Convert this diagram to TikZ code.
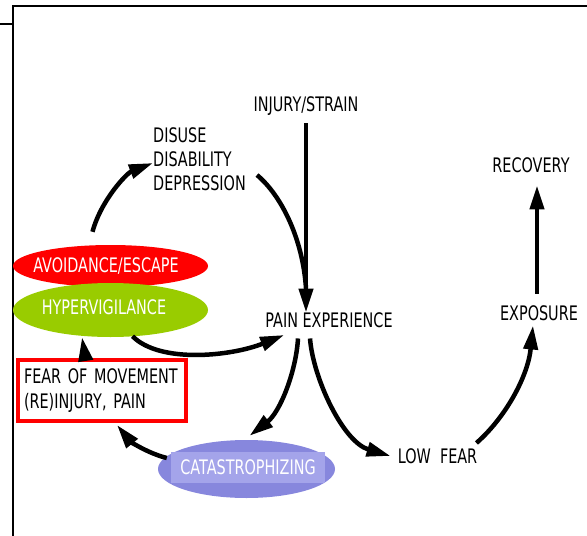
\documentclass[tikz,border=0pt]{standalone}
\usepackage{fontspec}
\setmainfont{DejaVu Sans}[FakeStretch=0.72]
\usetikzlibrary{arrows.meta,shapes.geometric,calc}
\definecolor{hypgreen}{HTML}{99CC00}
\definecolor{catblue}{HTML}{8787DD}
\definecolor{catlight}{HTML}{A4A4EA}
\begin{document}
\begin{tikzpicture}[x=1pt,y=-1pt,
  lbl/.style={font=\fontsize{20}{24}\selectfont, inner sep=0pt, text height=14.5pt, text depth=0pt},
  mlbl/.style={font=\fontsize{20}{24}\selectfont, inner sep=0pt, align=left},
  blob/.style={ellipse, inner sep=0pt},
  arr/.style={line width=4.5pt, -{Triangle[length=24pt,width=14pt]}},
  link/.style={line width=4.5pt},
  frame/.style={line width=2pt}]
\useasboundingbox (0,0) rectangle (587,536);
% frame
\draw[frame] (12,6) -- (587,6);
\draw[frame] (13,5) -- (13,536);
\draw[frame] (0,24) -- (13,24);
% nodes
\node[lbl] (inj) at (306,104) {INJURY/STRAIN};
\node[mlbl, anchor=north west] (dis) at (153,127) {DISUSE\\DISABILITY\\DEPRESSION};
\node[lbl] (rec) at (531,165) {RECOVERY};
\node[blob, fill=red, minimum width=195pt, minimum height=42pt] (avo) at (110.5,266) {};
\node[blob, fill=hypgreen, minimum width=195pt, minimum height=54pt] (hyp) at (110.5,310) {};
\node[lbl, text=white] (avot) at (106,265) {AVOIDANCE/ESCAPE};
\node[lbl, text=white] (hypt) at (104,307) {HYPERVIGILANCE};
\node[lbl] (pain) at (329,320) {PAIN EXPERIENCE};
\node[lbl] (exp) at (539,313) {EXPOSURE};
\node[draw=red, line width=4pt, minimum width=168pt, minimum height=61pt, inner xsep=6pt,
      text width=156pt, align=left, font=\fontsize{20}{25}\selectfont] (fear) at (102,390.5)
      {FEAR OF MOVEMENT\\(RE)INJURY, PAIN};
\node[blob, fill=catblue, minimum width=177pt, minimum height=58pt] (cat) at (246.5,469) {};
\node[fill=catlight, minimum width=154pt, minimum height=31pt, inner sep=0pt, text=white,
      font=\fontsize{20}{24}\selectfont, text height=14.5pt, text depth=0pt] (catt) at (248,467.5) {CATASTROPHIZING};
\node[lbl] (low) at (437.5,456) {LOW\ \ FEAR};
% connectors
\draw[arr] ($(avo.north)+(-18,-13)$) .. controls (101,200) and (127,173) .. ($(dis.north west)+(0,36)$);
\draw[link] ($(dis.north west)+(104,48)$) .. controls (282,196) and (303,240) .. ($(pain.north)+(-23,-24)$);
\draw[arr, shorten <=12pt] (inj.south) -- (inj.south |- pain.north);
\draw[arr] ($(hyp.south)+(22,-1)$) .. controls (160,364) and (232,356) .. ($(pain.west)+(19,15)$);
\draw[arr] ($(pain.south)+(-31,11)$) .. controls (296,372) and (280,412) .. ($(cat.north)+(3,-4)$);
\draw[arr] ($(pain.south)+(-19,11)$) .. controls (313,378) and (343,442) .. ($(low.west)+(-7,0)$);
\draw[arr] ($(low.east)+(-1,-13)$) .. controls (506,417) and (528,376) .. ($(exp.south)+(-6,5)$);
\draw[arr] ($(exp.north)+(-2,-12)$) -- ($(rec.south)+(6,13)$);
\draw[arr] ($(cat.west)+(9,-11)$) .. controls (147,453) and (130,441) .. ($(fear.south)+(15,2)$);
\draw[arr] ($(fear.north)+(-17,-2)$) -- ($(hyp.south)+(-28.5,0)$);
\end{tikzpicture}
\end{document}
